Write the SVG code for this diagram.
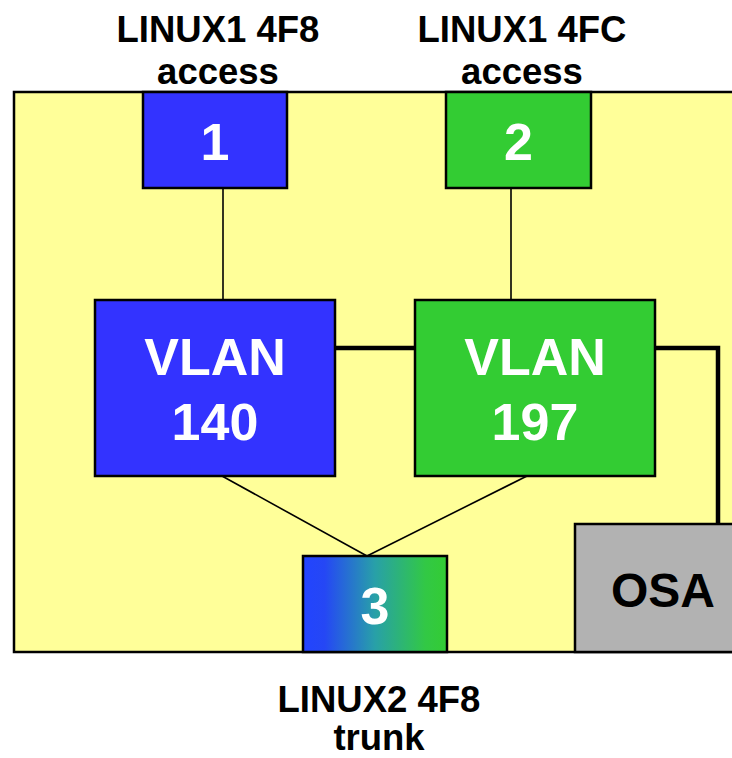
<svg xmlns="http://www.w3.org/2000/svg" width="732" height="758" viewBox="0 0 732 758">
  <defs>
    <linearGradient id="trunkFill" x1="0" y1="0" x2="1" y2="0">
      <stop offset="0" stop-color="#2244FF"/>
      <stop offset="0.15" stop-color="#2547F5"/>
      <stop offset="0.5" stop-color="#28A0A8"/>
      <stop offset="0.85" stop-color="#32C845"/>
      <stop offset="1" stop-color="#33CC33"/>
    </linearGradient>
  </defs>
  <style>
    .box { stroke: #000; stroke-width: 2.5; }
    .blue { fill: #3333FF; }
    .green { fill: #33CC33; }
    .grey { fill: #B2B2B2; }
    .label { font-family: "Liberation Sans", Arial, sans-serif; font-weight: bold; text-anchor: middle; }
    .big { font-size: 52px; fill: #fff; }
    .cap { font-size: 36.5px; fill: #000; }
    .thin { stroke: #000; stroke-width: 1.6; fill: none; }
    .thick { stroke: #000; stroke-width: 4.5; fill: none; }
  </style>

  <rect id="background" x="14" y="92" width="740" height="560" fill="#FFFF99" stroke="#000" stroke-width="2.5"/>

  <g id="connectors">
    <line class="thin" x1="223" y1="188" x2="223" y2="300"/>
    <line class="thin" x1="511" y1="188" x2="511" y2="300"/>
    <line class="thin" x1="222" y1="476" x2="367" y2="556"/>
    <line class="thin" x1="527" y1="476" x2="367" y2="556"/>
    <line class="thick" x1="335" y1="348" x2="415" y2="348"/>
    <polyline class="thick" points="655,348 718,348 718,524"/>
  </g>

  <g id="port1">
    <rect class="box blue" x="143" y="92" width="144" height="96"/>
    <text class="label big" x="215" y="160">1</text>
  </g>
  <g id="port2">
    <rect class="box green" x="446" y="92" width="145" height="96"/>
    <text class="label big" x="518.5" y="160">2</text>
  </g>
  <g id="vlan140">
    <rect class="box blue" x="95" y="300" width="240" height="176"/>
    <text class="label big" x="215" y="375">VLAN</text>
    <text class="label big" x="215" y="440">140</text>
  </g>
  <g id="vlan197">
    <rect class="box green" x="415" y="300" width="240" height="176"/>
    <text class="label big" x="535" y="375">VLAN</text>
    <text class="label big" x="535" y="440">197</text>
  </g>
  <g id="port3">
    <rect class="box" fill="url(#trunkFill)" x="303" y="556" width="144" height="96"/>
    <text class="label big" x="375" y="624">3</text>
  </g>
  <g id="osa">
    <rect class="box grey" x="575" y="524" width="180" height="128"/>
    <text class="label" x="663" y="607" font-size="48" fill="#000">OSA</text>
  </g>

  <g id="captions">
    <text class="label cap" x="218" y="42">LINUX1 4F8</text>
    <text class="label cap" x="218" y="84">access</text>
    <text class="label cap" x="522" y="42">LINUX1 4FC</text>
    <text class="label cap" x="522" y="84">access</text>
    <text class="label cap" x="379" y="712">LINUX2 4F8</text>
    <text class="label cap" x="379" y="750">trunk</text>
  </g>
</svg>
